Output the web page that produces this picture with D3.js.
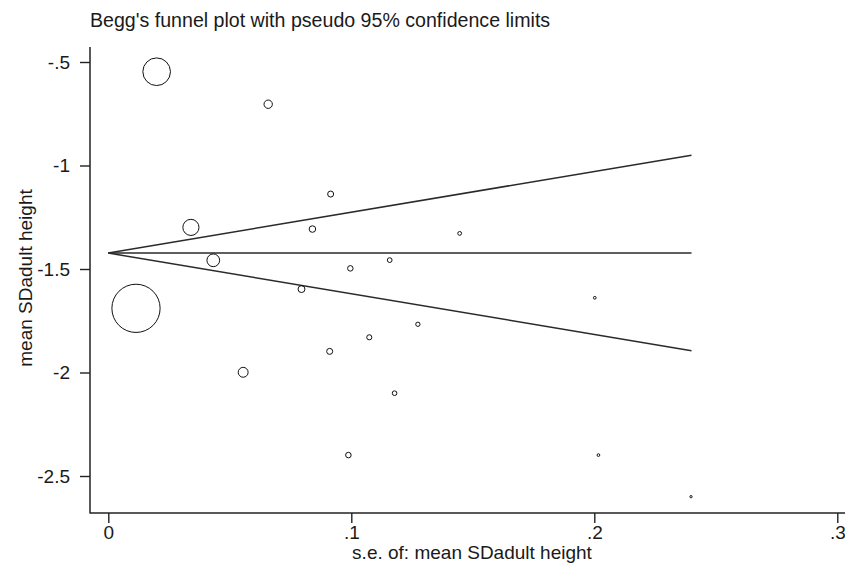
<!DOCTYPE html>
<html>
<head>
<meta charset="utf-8">
<script src="https://cdn.jsdelivr.net/npm/d3@7/dist/d3.min.js"></script>
<style>
  body { margin: 0; background: #fff; }
  svg text { font-family: "Liberation Sans", Arial, sans-serif; fill: #1a1a1a; }
</style>
</head>
<body>
<div id="chart"></div>
<script>
// standard errors and effect sizes
var seValues = [0.0199, 0.0658, 0.0340, 0.0915, 0.0840, 0.1446, 0.0432, 0.0996, 0.1158, 0.0114,
                0.0795, 0.1274, 0.1074, 0.0911, 0.0555, 0.1178, 0.0988, 0.2002, 0.2017, 0.2398];
var effectValues = [-0.547, -0.704, -1.299, -1.138, -1.307, -1.328, -1.458, -1.497, -1.457, -1.690,
                    -1.597, -1.767, -1.830, -1.898, -1.999, -2.100, -2.399, -1.639, -2.399, -2.600];

// pseudo 95% limits
var funnelSe = [0, 0.240];
var pooled = [-1.423, -1.423];
var upperLimit = [-1.423, -0.950];
var lowerLimit = [-1.423, -1.895];

var xTicks = [0, 0.1, 0.2, 0.3];
var xTickLabels = ["0", ".1", ".2", ".3"];
var yTicks = [-0.5, -1, -1.5, -2, -2.5];
var yTickLabels = ["-.5", "-1", "-1.5", "-2", "-2.5"];

var title = "Begg's funnel plot with pseudo 95% confidence limits";
var xTitle = "s.e. of: mean SDadult height";
var yTitle = "mean SDadult height";

var width = 845, height = 565;
var frame = {left: 90, top: 47, bottom: 513, right: 845};

var svg = d3.select("#chart").append("svg")
    .attr("width", width)
    .attr("height", height);

var x = d3.scaleLinear().domain([0, 0.3]).range([108.3, 837.3]);
var y = d3.scaleLinear().domain([-0.5, -2.5]).range([62, 476]);

var weights = seValues.map(function(s) { return 1 / (s * s); });
var maxW = d3.max(weights);
var r = d3.scaleSqrt().domain([0, maxW]).range([0, 0.275 * Math.sqrt(maxW)]);

// axes
var yAxis = d3.axisLeft(y)
    .tickValues(yTicks)
    .tickFormat(function(d, i) { return yTickLabels[i]; })
    .tickSize(10)
    .tickPadding(10);
var gy = svg.append("g")
    .attr("transform", "translate(" + frame.left + ",0)")
    .call(yAxis);
gy.select(".domain").remove();

var xAxis = d3.axisBottom(x)
    .tickValues(xTicks)
    .tickFormat(function(d, i) { return xTickLabels[i]; })
    .tickSize(10)
    .tickPadding(3);
var gx = svg.append("g")
    .attr("transform", "translate(0," + frame.bottom + ")")
    .call(xAxis);
gx.select(".domain").remove();

svg.selectAll(".tick line").attr("stroke", "#222").attr("stroke-width", 1.4);
svg.selectAll(".tick text").attr("font-size", 19).style("font-family", '"Liberation Sans", Arial, sans-serif');

svg.append("line")
    .attr("x1", frame.left).attr("x2", frame.left)
    .attr("y1", frame.top).attr("y2", frame.bottom + 0.5)
    .attr("stroke", "#222").attr("stroke-width", 1.5);
svg.append("line")
    .attr("x1", frame.left).attr("x2", frame.right)
    .attr("y1", frame.bottom).attr("y2", frame.bottom)
    .attr("stroke", "#222").attr("stroke-width", 1.5);

// funnel lines
var lineGen = d3.line()
    .x(function(d) { return x(d[0]); })
    .y(function(d) { return y(d[1]); });

[pooled, upperLimit, lowerLimit].forEach(function(vals) {
    svg.append("path")
        .datum(d3.zip(funnelSe, vals))
        .attr("d", lineGen)
        .attr("fill", "none")
        .attr("stroke", "#2a2a2a")
        .attr("stroke-width", 1.5);
});

// study points
svg.append("g").selectAll("circle")
    .data(d3.range(seValues.length))
    .enter().append("circle")
    .attr("cx", function(i) { return x(seValues[i]); })
    .attr("cy", function(i) { return y(effectValues[i]); })
    .attr("r", function(i) { return r(weights[i]); })
    .attr("fill", "none")
    .attr("stroke", "#111")
    .attr("stroke-width", 1);

// titles
svg.append("text")
    .attr("x", 90).attr("y", 27)
    .attr("font-size", 19.6)
    .text(title);

svg.append("text")
    .attr("x", 472).attr("y", 559)
    .attr("text-anchor", "middle")
    .attr("font-size", 19)
    .text(xTitle);

svg.append("text")
    .attr("transform", "translate(32,278) rotate(-90)")
    .attr("text-anchor", "middle")
    .attr("font-size", 19)
    .text(yTitle);
</script>
</body>
</html>
